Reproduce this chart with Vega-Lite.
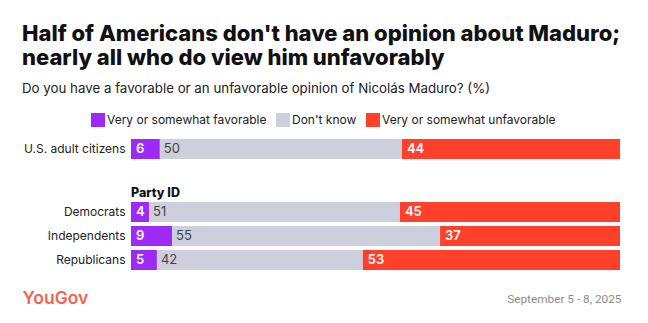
{
  "$schema": "https://vega.github.io/schema/vega-lite/v6.json",
  "background": "white",
  "padding": {"left": 22, "top": 22, "right": 20, "bottom": 10},
  "title": {
    "text": ["Half of Americans don't have an opinion about Maduro;", "nearly all who do view him unfavorably"],
    "subtitle": "Do you have a favorable or an unfavorable opinion of Nicolás Maduro? (%)",
    "anchor": "start",
    "font": "Inter",
    "fontSize": 22,
    "fontWeight": 800,
    "color": "#111111",
    "lineHeight": 24,
    "subtitleFont": "Inter",
    "subtitleFontSize": 13.3,
    "subtitleColor": "#222222",
    "subtitlePadding": 12,
    "offset": 17
  },
  "datasets": {
    "opinion": [
      {"panel": "all", "group": "U.S. adult citizens", "cat": "Very or somewhat favorable", "order": 1, "pct": 5.9, "label": "6"},
      {"panel": "all", "group": "U.S. adult citizens", "cat": "Don't know", "order": 2, "pct": 49.5, "label": "50"},
      {"panel": "all", "group": "U.S. adult citizens", "cat": "Very or somewhat unfavorable", "order": 3, "pct": 44.6, "label": "44"},
      {"panel": "party", "group": "Democrats", "cat": "Very or somewhat favorable", "order": 1, "pct": 3.7, "label": "4"},
      {"panel": "party", "group": "Democrats", "cat": "Don't know", "order": 2, "pct": 51.3, "label": "51"},
      {"panel": "party", "group": "Democrats", "cat": "Very or somewhat unfavorable", "order": 3, "pct": 45.0, "label": "45"},
      {"panel": "party", "group": "Independents", "cat": "Very or somewhat favorable", "order": 1, "pct": 8.4, "label": "9"},
      {"panel": "party", "group": "Independents", "cat": "Don't know", "order": 2, "pct": 54.8, "label": "55"},
      {"panel": "party", "group": "Independents", "cat": "Very or somewhat unfavorable", "order": 3, "pct": 36.8, "label": "37"},
      {"panel": "party", "group": "Republicans", "cat": "Very or somewhat favorable", "order": 1, "pct": 5.3, "label": "5"},
      {"panel": "party", "group": "Republicans", "cat": "Don't know", "order": 2, "pct": 42.1, "label": "42"},
      {"panel": "party", "group": "Republicans", "cat": "Very or somewhat unfavorable", "order": 3, "pct": 52.6, "label": "53"}
    ]
  },
  "spacing": 25,
  "vconcat": [
    {
      "width": 489,
      "height": 24,
      "data": {"name": "opinion"},
      "transform": [
        {"filter": "datum.panel == 'all'"},
        {"stack": "pct", "groupby": ["group"], "sort": [{"field": "order"}], "offset": "normalize", "as": ["s0", "s1"]}
      ],
      "encoding": {
        "y": {"field": "group", "type": "nominal", "sort": null, "title": null,
              "scale": {"paddingInner": 0.1667, "paddingOuter": 0.0833}},
        "x": {"field": "s0", "type": "quantitative", "scale": {"domain": [0, 1]}, "axis": null}
      },
      "layer": [
        {
          "mark": {"type": "bar"},
          "encoding": {
            "x2": {"field": "s1"},
            "color": {"field": "cat", "type": "nominal",
                      "scale": {"domain": ["Very or somewhat favorable", "Don't know", "Very or somewhat unfavorable"], "range": ["#9d2af5", "#cdd0dc", "#ff412c"]},
                      "legend": {"title": null, "orient": "none", "legendX": -40, "legendY": -24}}
          }
        },
        {
          "transform": [{"filter": "datum.cat != \"Don't know\""}],
          "mark": {"type": "text", "align": "left", "dx": 5, "font": "Inter", "fontSize": 13, "fontWeight": 600, "color": "white"},
          "encoding": {"text": {"field": "label"}}
        },
        {
          "transform": [{"filter": "datum.cat == \"Don't know\""}],
          "mark": {"type": "text", "align": "left", "dx": 4, "font": "Inter", "fontSize": 13, "fontWeight": 400, "color": "#444444"},
          "encoding": {"text": {"field": "label"}}
        }
      ]
    },
    {
      "width": 489,
      "height": 72,
      "title": {"text": "Party ID", "anchor": "start", "frame": "group", "font": "Inter", "fontSize": 12.5, "fontWeight": 800, "color": "#111111", "offset": 1},
      "data": {"name": "opinion"},
      "transform": [
        {"filter": "datum.panel == 'party'"},
        {"stack": "pct", "groupby": ["group"], "sort": [{"field": "order"}], "offset": "normalize", "as": ["s0", "s1"]}
      ],
      "encoding": {
        "y": {"field": "group", "type": "nominal", "sort": null,
              "scale": {"paddingInner": 0.1667, "paddingOuter": 0.0833},
              "axis": {"title": "YouGov", "titleAngle": 0, "titleX": -109, "titleY": 98, "titleAlign": "left", "titleBaseline": "middle",
                       "titleFont": "Inter", "titleFontSize": 17.5, "titleFontWeight": 600, "titleColor": "#f26452"}},
        "x": {"field": "s0", "type": "quantitative", "scale": {"domain": [0, 1]},
              "axis": {"title": "September 5 - 8, 2025", "labels": false, "ticks": false, "domain": false, "grid": false,
                       "titleAnchor": "end", "titleAlign": "right", "titleX": 490, "titleY": 26, "titleBaseline": "middle",
                       "titleFont": "Roboto", "titleFontSize": 11.8, "titleFontWeight": "normal", "titleColor": "#8c8c8c"}}
      },
      "layer": [
        {
          "mark": {"type": "bar"},
          "encoding": {
            "x2": {"field": "s1"},
            "color": {"field": "cat", "type": "nominal",
                      "scale": {"domain": ["Very or somewhat favorable", "Don't know", "Very or somewhat unfavorable"], "range": ["#9d2af5", "#cdd0dc", "#ff412c"]},
                      "legend": {"title": null, "orient": "none", "legendX": -40, "legendY": -24}}
          }
        },
        {
          "transform": [{"filter": "datum.cat != \"Don't know\""}],
          "mark": {"type": "text", "align": "left", "dx": 5, "font": "Inter", "fontSize": 13, "fontWeight": 600, "color": "white"},
          "encoding": {"text": {"field": "label"}}
        },
        {
          "transform": [{"filter": "datum.cat == \"Don't know\""}],
          "mark": {"type": "text", "align": "left", "dx": 4, "font": "Inter", "fontSize": 13, "fontWeight": 400, "color": "#444444"},
          "encoding": {"text": {"field": "label"}}
        }
      ]
    }
  ],
  "config": {
    "view": {"stroke": null},
    "bar": {"stroke": null},
    "axisY": {"labelFont": "Inter", "labelFontSize": 12, "labelColor": "#222222", "ticks": false, "domain": false, "labelPadding": 6, "grid": false},
    "legend": {"direction": "horizontal", "labelFont": "Inter", "labelFontSize": 12, "labelColor": "#222222", "labelLimit": 0,
               "symbolType": "square", "symbolSize": 196, "symbolStrokeWidth": 0, "symbolOpacity": 1, "labelOffset": 2, "columnPadding": 9}
  }
}
